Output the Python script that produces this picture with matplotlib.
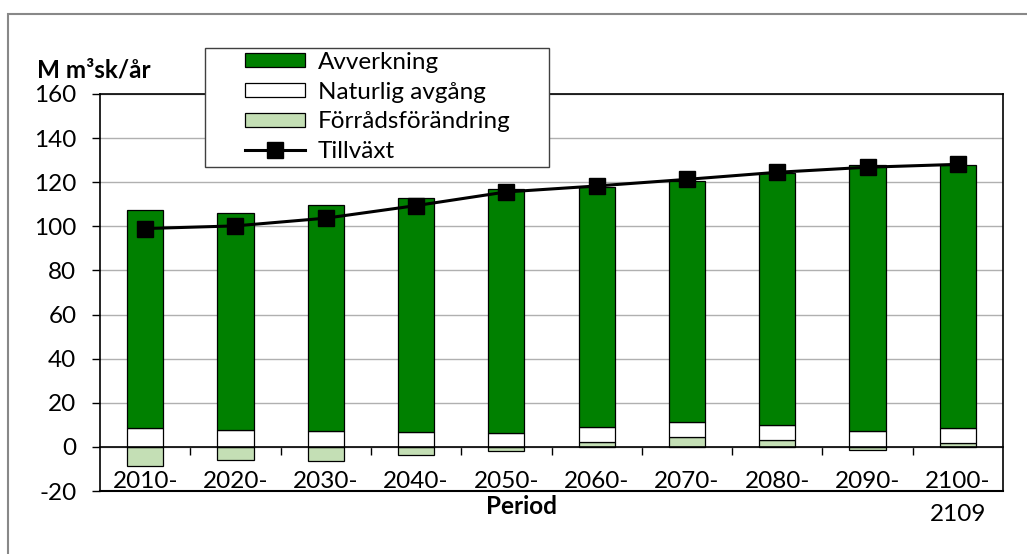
import numpy as np
import matplotlib.pyplot as plt
from matplotlib.patches import Rectangle
from matplotlib.lines import Line2D

plt.rcParams['font.family'] = ['Lato', 'DejaVu Sans']
plt.rcParams['axes.unicode_minus'] = False

# data (M m3sk/år)
periods = ['2010-', '2020-', '2030-', '2040-', '2050-',
           '2060-', '2070-', '2080-', '2090-', '2100-\n2109']
avverkning = [98.8, 98.6, 102.3, 106.4, 110.8, 109.2, 109.4, 114.2, 120.4, 119.4]
naturlig = [8.6, 7.6, 7.4, 6.6, 6.3, 6.8, 6.8, 6.9, 7.4, 6.8]
forrad = [-8.5, -6.0, -6.3, -3.6, -1.8, 2.0, 4.5, 3.2, -1.2, 1.8]
tillvaxt = [99.0, 100.2, 103.7, 109.4, 115.6, 118.3, 121.3, 124.5, 126.8, 128.1]

dark_green = '#008000'
light_green = '#C4DFB5'
fs = 17.5

fig = plt.figure(figsize=(10.27, 5.54), dpi=100)
ax = fig.add_axes([100/1027, 63/554, 903/1027, 397/554])

x = np.arange(len(periods))
f = np.array(forrad)
n = np.array(naturlig)
a = np.array(avverkning)
pos_f = np.where(f > 0, f, 0)

w = 0.4
ax.bar(x, f, w, color=light_green, edgecolor='black', linewidth=0.9, zorder=2)
ax.bar(x, n, w, bottom=pos_f, color='white', edgecolor='black', linewidth=0.9, zorder=2)
ax.bar(x, a, w, bottom=pos_f + n, color=dark_green, edgecolor='black', linewidth=0.9, zorder=2)
ax.plot(x, tillvaxt, color='black', lw=2.2, marker='s', ms=12, zorder=4)

ax.set_xlim(-0.5, len(periods) - 0.5)
ax.set_ylim(-20, 160)
ax.set_yticks(np.arange(-20, 161, 20))
ax.yaxis.grid(True, color='#B0B0B0', lw=1.0)
ax.set_axisbelow(True)
ax.tick_params(axis='y', direction='out', length=6, width=1, pad=11, labelsize=fs)

for s in ['left', 'right', 'top']:
    ax.spines[s].set_color('black')
    ax.spines[s].set_linewidth(1.2)
ax.spines['bottom'].set_position(('data', 0))
ax.spines['bottom'].set_linewidth(1.2)
ax.spines['bottom'].set_zorder(3)
ax.axhline(-20, color='black', lw=1.5, zorder=3, clip_on=False)

ax.set_xticks(x)
ax.set_xticklabels(periods)
ax.set_xticks(np.arange(0.5, len(periods) - 1, 1), minor=True)
ax.tick_params(axis='x', which='major', length=0, pad=17, labelsize=fs)
ax.tick_params(axis='x', which='minor', direction='out', length=6, width=1)
ax.get_xticklabels()[-1].set_linespacing(1.75)

fig.text(37/1027, 1 - 70/554, 'M m³sk/år', fontsize=fs, fontweight='bold', va='center')
fig.text(521/1027, 1 - 506/554, 'Period', fontsize=fs, fontweight='bold', ha='center', va='center')

# outer chart border (only left and top visible)
fig.patches.append(Rectangle((8/1027, -0.2), 1.2, 1.2 - 14/554, transform=fig.transFigure,
                             fill=False, edgecolor='#888888', lw=1.5, zorder=0))

# legend box
fig.patches.append(Rectangle((205/1027, 1 - 167/554), 344/1027, 119/554,
                             transform=fig.transFigure, facecolor='white',
                             edgecolor='#404040', lw=1.0, zorder=5))
handles = [Rectangle((0, 0), 1, 1, facecolor=dark_green, edgecolor='black', lw=0.9),
           Rectangle((0, 0), 1, 1, facecolor='white', edgecolor='black', lw=0.9),
           Rectangle((0, 0), 1, 1, facecolor=light_green, edgecolor='black', lw=0.9),
           Line2D([], [], color='black', lw=2.2, marker='s', ms=12)]
labels = ['Avverkning', 'Naturlig avgång', 'Förrådsförändring', 'Tillväxt']
leg = fig.legend(handles, labels, loc='upper left', bbox_to_anchor=(245/1027, 1 - 52/554),
                 frameon=False, borderpad=0, borderaxespad=0, fontsize=fs,
                 handlelength=2.45, handleheight=0.5, handletextpad=0.55, labelspacing=0.36)
leg.set_zorder(6)

fig.savefig('out.png', dpi=100)
